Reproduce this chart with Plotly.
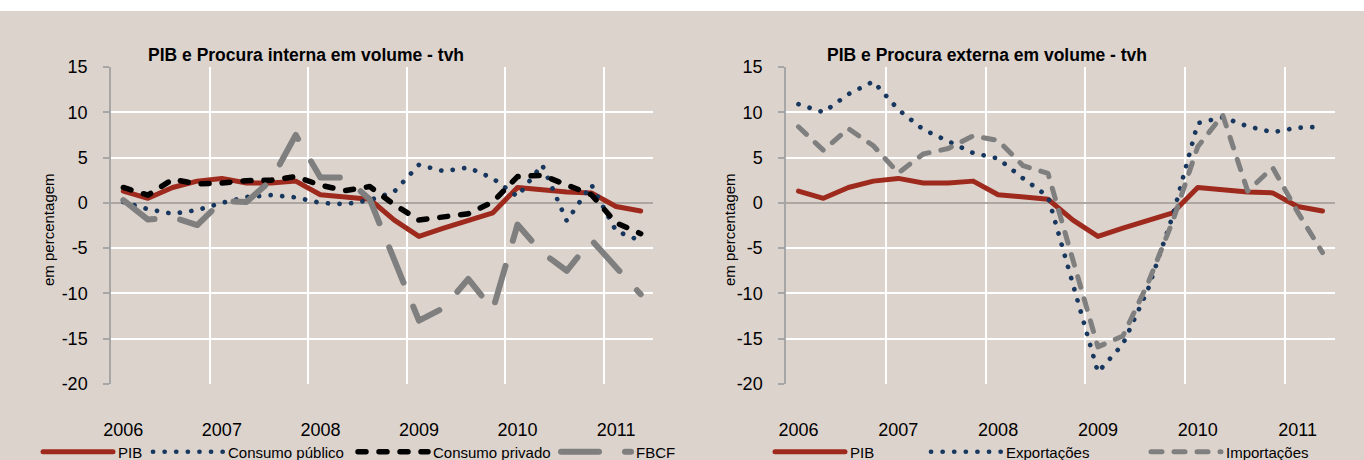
import plotly.graph_objects as go

# ---------------- data ----------------
quarters = ["2006T1", "2006T2", "2006T3", "2006T4",
            "2007T1", "2007T2", "2007T3", "2007T4",
            "2008T1", "2008T2", "2008T3", "2008T4",
            "2009T1", "2009T2", "2009T3", "2009T4",
            "2010T1", "2010T2", "2010T3", "2010T4",
            "2011T1", "2011T2"]
year_ticks = ["2006T1", "2007T1", "2008T1", "2009T1", "2010T1", "2011T1"]
year_labels = ["2006", "2007", "2008", "2009", "2010", "2011"]
y_ticks = [-20, -15, -10, -5, 0, 5, 10, 15]
y_labels = ["-20", "-15", "-10", "-5", "0", "5", "10", "15"]

pib = [1.3, 0.5, 1.7, 2.4, 2.7, 2.2, 2.2, 2.4, 0.9, 0.7, 0.4,
       -1.9, -3.7, -2.8, -1.9, -1.1, 1.7, 1.4, 1.2, 1.1, -0.4, -0.9]
consumo_publico = [0.1, -0.7, -1.2, -0.8, 0.0, 0.65, 0.85, 0.6, 0.0, -0.15, 0.3,
                   1.25, 4.2, 3.5, 3.9, 2.7, 0.7, 4.2, -2.0, 2.0, -3.1, -4.2]
consumo_privado = [1.7, 0.85, 2.6, 2.1, 2.2, 2.45, 2.5, 2.9, 1.95, 1.35, 1.8,
                   -0.2, -1.9, -1.5, -1.2, 0.1, 2.9, 3.05, 1.9, 0.9, -2.2, -3.4]
fbcf = [0.3, -1.85, -1.6, -2.45, 0.2, 0.1, 2.5, 7.5, 2.8, 2.8, 0.4,
        -6.2, -13.0, -11.6, -8.4, -11.8, -2.4, -5.5, -7.5, -4.1, -7.1, -10.1]
exportacoes = [10.9, 10.0, 12.0, 13.4, 10.3, 8.1, 6.8, 5.5, 4.9, 2.7, 0.7,
               -9.0, -18.7, -15.6, -9.6, -1.4, 8.8, 9.45, 8.45, 7.8, 8.3, 8.4]
importacoes = [8.4, 5.8, 8.2, 6.3, 3.3, 5.4, 6.0, 7.4, 6.9, 4.1, 3.25,
               -6.2, -15.9, -14.7, -8.9, -2.0, 6.2, 9.7, 1.3, 3.9, -1.0, -5.5]

# ---------------- style ----------------
W, H = 1364, 460
BG = "#DCD3CD"
RED = "#9E2A1E"
NAVY = "#17375E"
GRAY = "#7F7F7F"
FONT = "Liberation Sans, Arial, sans-serif"

xpos = list(range(len(quarters)))
year_pos = [quarters.index(q) for q in year_ticks]
boundaries = [p - 0.5 for p in year_pos[1:]] + [len(quarters) - 0.5]


def px_x(v):
    return v / W


def px_y(v):
    return 1 - v / H


fig = go.Figure()

# (name, values, line style, legend id, legend left edge in px)
left = [
    ("PIB", pib, dict(color=RED, width=5), "legend", 38),
    ("Consumo público", consumo_publico, dict(color=NAVY, width=4.7, dash="0.1px,11.5px"), "legend2", 148),
    ("Consumo privado", consumo_privado, dict(color="#000000", width=5.5, dash="8px,13px"), "legend3", 353),
    ("FBCF", fbcf, dict(color=GRAY, width=6, dash="38px,26px"), "legend4", 556),
]
right = [
    ("PIB", pib, dict(color=RED, width=5), "legend5", 770),
    ("Exportações", exportacoes, dict(color=NAVY, width=4.7, dash="0.1px,11.5px"), "legend6", 926),
    ("Importações", importacoes, dict(color=GRAY, width=5, dash="11px,12px"), "legend7", 1146),
]

legends = {}
for group, xa, ya in ((left, "x", "y"), (right, "x2", "y2")):
    for name, vals, line, lg, lx in group:
        fig.add_trace(go.Scatter(x=xpos, y=vals, name=name, mode="lines", line=line,
                                 customdata=quarters,
                                 hovertemplate="%{customdata}: %{y}<extra>" + name + "</extra>",
                                 xaxis=xa, yaxis=ya, legend=lg))
        legends[lg] = dict(orientation="h", x=px_x(lx), xanchor="left", y=px_y(452),
                           yanchor="middle", font=dict(family=FONT, size=15, color="#000000"),
                           itemwidth=70, bgcolor="rgba(0,0,0,0)")

xcommon = dict(range=[-0.5, len(quarters) - 0.5], tickmode="array", tickvals=year_pos,
               ticktext=year_labels, showgrid=False, zeroline=False, showline=False,
               ticks="", ticklabelstandoff=33,
               tickfont=dict(family=FONT, size=18, color="#000000"),
               minor=dict(tickmode="array", tickvals=boundaries, showgrid=True,
                          gridcolor="#FFFFFF", gridwidth=1.5, ticks=""),
               fixedrange=True)
ycommon = dict(range=[-20, 15], tickmode="array", tickvals=y_ticks, ticktext=y_labels,
               showgrid=True, gridcolor="#FFFFFF", gridwidth=1.5,
               zeroline=True, zerolinecolor="#ADA7A3", zerolinewidth=2,
               showline=True, linecolor="#A6A6A6", linewidth=1.5,
               ticks="outside", ticklen=6, tickcolor="#A6A6A6", tickwidth=1.5,
               ticklabelstandoff=12,
               tickfont=dict(family=FONT, size=18, color="#000000"),
               fixedrange=True)

ydom = [px_y(384), px_y(67)]

fig.update_layout(
    width=W, height=H,
    margin=dict(l=0, r=0, t=0, b=0, autoexpand=False),
    paper_bgcolor=BG, plot_bgcolor=BG,
    font=dict(family=FONT, color="#000000"),
    xaxis=dict(domain=[px_x(111), px_x(653)], anchor="y", **xcommon),
    yaxis=dict(domain=ydom, anchor="x", **ycommon),
    xaxis2=dict(domain=[px_x(786), px_x(1335)], anchor="y2", **xcommon),
    yaxis2=dict(domain=ydom, anchor="x2", **ycommon),
    showlegend=True,
    shapes=[dict(type="rect", xref="paper", yref="paper", x0=0, x1=1, y0=px_y(11), y1=1,
                 fillcolor="#FFFFFF", line=dict(width=0), layer="below")],
    annotations=[
        dict(text="<b>PIB e Procura interna em volume - tvh</b>", xref="paper", yref="paper",
             x=px_x(146), y=px_y(55), xanchor="left", yanchor="middle", showarrow=False,
             font=dict(family=FONT, size=17.5, color="#000000")),
        dict(text="<b>PIB e Procura externa em volume - tvh</b>", xref="paper", yref="paper",
             x=px_x(825), y=px_y(55), xanchor="left", yanchor="middle", showarrow=False,
             font=dict(family=FONT, size=17.5, color="#000000")),
        dict(text="em percentagem", xref="paper", yref="paper", textangle=-90,
             x=px_x(48), y=px_y(230), xanchor="center", yanchor="middle", showarrow=False,
             font=dict(family=FONT, size=15, color="#000000")),
        dict(text="em percentagem", xref="paper", yref="paper", textangle=-90,
             x=px_x(729), y=px_y(230), xanchor="center", yanchor="middle", showarrow=False,
             font=dict(family=FONT, size=15, color="#000000")),
    ],
    **legends,
)

post = ("var s=document.createElement('style');"
        "s.innerHTML='html,body{margin:0;padding:0;overflow:hidden}"
        ".js-line{stroke-linecap:round;stroke-linejoin:round}';"
        "document.head.appendChild(s);")
fig.write_html("out.html", post_script=post, config={"displayModeBar": False})
